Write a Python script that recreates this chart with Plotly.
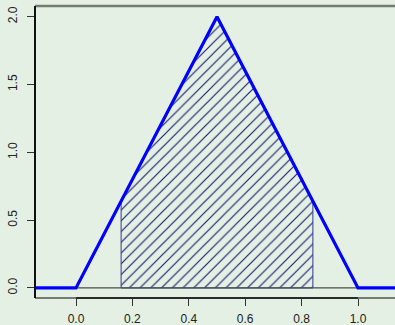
import plotly.graph_objects as go

# density curve (triangular)
curve_x = [-0.15, 0.0, 0.5, 1.0, 1.15]
curve_y = [0.0, 0.0, 2.0, 0.0, 0.0]

# hatched region polygon
hatch_x = [0.16, 0.16, 0.5, 0.84, 0.84, 0.16]
hatch_y = [0.0, 0.64, 2.0, 0.64, 0.0, 0.0]

x_ticks = [0.0, 0.2, 0.4, 0.6, 0.8, 1.0]
y_ticks = [0.0, 0.5, 1.0, 1.5, 2.0]

bg = "#E5F0E4"
fig = go.Figure()

fig.add_trace(go.Scatter(
    x=hatch_x, y=hatch_y, mode="lines", fill="toself",
    line=dict(color="#2F3A8C", width=1),
    fillcolor="rgba(0,0,0,0)",
    fillpattern=dict(shape="/", size=7.6, solidity=0.15,
                     fgcolor="#141C6E", fgopacity=1, bgcolor="rgba(0,0,0,0)"),
    hoverinfo="skip", showlegend=False))

# horizontal reference line at 0
fig.add_trace(go.Scatter(
    x=[-0.2, 1.2], y=[0, 0], mode="lines",
    line=dict(color="#4A4F4A", width=1.2), showlegend=False, hoverinfo="skip"))

fig.add_trace(go.Scatter(
    x=curve_x, y=curve_y, mode="lines",
    line=dict(color="#0000FF", width=3.2), showlegend=False))

xr = [-0.1454, 1.1312]
yr = [-0.074, 2.079]

fig.update_layout(
    width=395, height=325,
    margin=dict(l=35, r=0, t=6, b=27, autoexpand=False),
    paper_bgcolor=bg, plot_bgcolor=bg,
    font=dict(family="Liberation Sans, Arial, sans-serif", size=12, color="#222"),
    xaxis=dict(range=xr, tickvals=x_ticks, tickformat=".1f", automargin=False,
               showgrid=False, zeroline=False, showline=False, ticklabelstandoff=3,
               ticks="outside", ticklen=7, tickcolor="#333", tickwidth=1.2),
    yaxis=dict(range=yr, tickvals=y_ticks, tickformat=".1f", tickangle=-90,
               automargin=False, ticklabelstandoff=5,
               showgrid=False, zeroline=False, showline=False,
               ticks="outside", ticklen=7, tickcolor="#333", tickwidth=1.2),
    shapes=[
        dict(type="line", xref="paper", yref="paper", x0=0, x1=1, y0=1, y1=1,
             line=dict(color="#737C73", width=2.5)),
        dict(type="line", xref="paper", yref="paper", x0=0, x1=1, y0=0, y1=0,
             line=dict(color="#737C73", width=2)),
        dict(type="line", xref="x", yref="paper", x0=0, x1=1, y0=0, y1=0,
             line=dict(color="#2A2A2A", width=2)),
        dict(type="line", xref="paper", yref="paper", x0=0, x1=0, y0=0, y1=1,
             line=dict(color="#111", width=2)),
    ],
)

fig.write_html("out.html", config={"displayModeBar": False},
               post_script="document.body.style.margin='0';document.body.style.background='%s';" % bg)
